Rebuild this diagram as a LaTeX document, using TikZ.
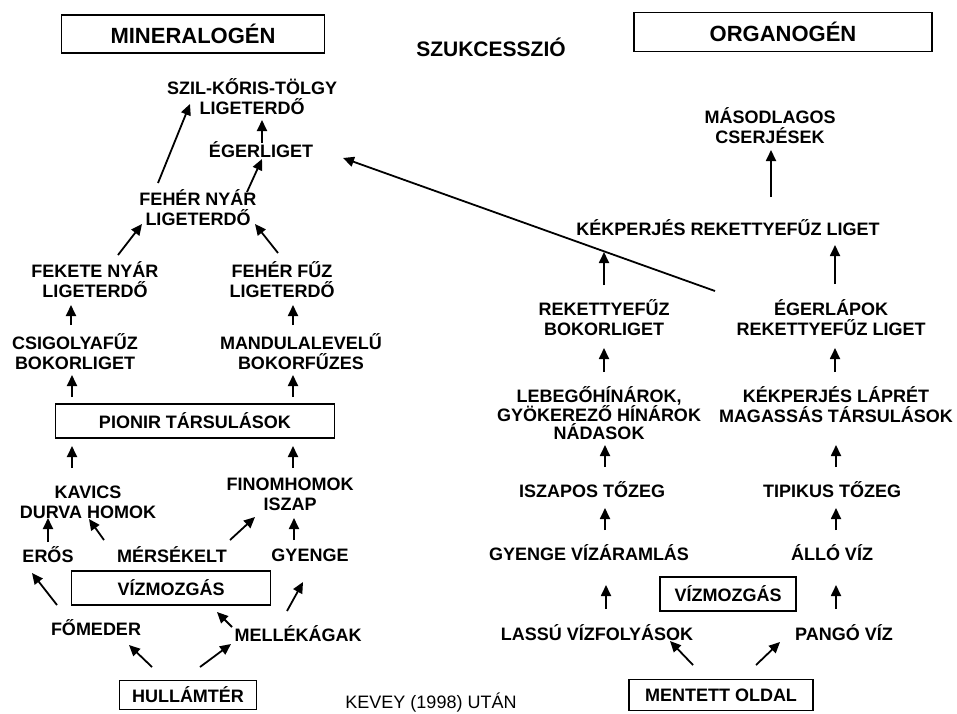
\documentclass[tikz,border=0pt]{standalone}
\usepackage{fontspec}
\setmainfont{Liberation Sans}
\usetikzlibrary{arrows.meta}
\begin{document}
\begin{tikzpicture}[x=1pt,y=-1pt,
	lbl/.style={font=\bfseries\fontsize{18}{20}\selectfont, align=center, inner sep=0pt},
	box/.style={lbl, draw, line width=1.5pt},
	arr/.style={line width=1.8pt, -{Triangle[length=11pt,width=10pt]}}]
	\useasboundingbox[fill=white] (0,0) rectangle (957,713);
	% Kopfzeile
	\node[box, minimum width=263, minimum height=38, font=\bfseries\fontsize{22}{24}\selectfont] (mineral) at (193,34) {MINERALOGÉN};
	\node[box, minimum width=298, minimum height=39, font=\bfseries\fontsize{22}{24}\selectfont] (organ) at (783,32) {ORGANOGÉN};
	\node[lbl, font=\bfseries\fontsize{21}{24}\selectfont] (szukc) at (491,47) {SZUKCESSZIÓ};
	% mineralogen Seite
	\node[lbl] (szil) at (252,97) {SZIL-KŐRIS-TÖLGY\\LIGETERDŐ};
	\node[lbl] (eger) at (261,150) {ÉGERLIGET};
	\node[lbl] (fnyar) at (198,208) {FEHÉR NYÁR\\LIGETERDŐ};
	\node[lbl] (fekete) at (95,280) {FEKETE NYÁR\\LIGETERDŐ};
	\node[lbl] (ffuz) at (282,280) {FEHÉR FŰZ\\LIGETERDŐ};
	\node[lbl] (csig) at (75,352) {CSIGOLYAFŰZ\\BOKORLIGET};
	\node[lbl] (mandula) at (301,352) {MANDULALEVELŰ\\BOKORFŰZES};
	\node[box, minimum width=279, minimum height=34] (pionir) at (195,421) {PIONIR TÁRSULÁSOK};
	\node[lbl] (kavics) at (88,502) {KAVICS\\DURVA HOMOK};
	\node[lbl] (finom) at (290,494) {FINOMHOMOK\\ISZAP};
	\node[lbl] (eros) at (48,555) {ERŐS};
	\node[lbl] (mers) at (172,555) {MÉRSÉKELT};
	\node[lbl] (gyenge) at (310,555) {GYENGE};
	\node[box, minimum width=199, minimum height=34] (vizl) at (171,588) {VÍZMOZGÁS};
	\node[lbl] (fomeder) at (96,628) {FŐMEDER};
	\node[lbl] (mellek) at (298,634) {MELLÉKÁGAK};
	\node[box, minimum width=137, minimum height=29] (hullam) at (188,695) {HULLÁMTÉR};
	\node[lbl, font=\fontsize{18}{20}\selectfont] (kevey) at (431,703) {KEVEY (1998) UTÁN};
	% organogen Seite
	\node[lbl] (masod) at (770,126) {MÁSODLAGOS\\CSERJÉSEK};
	\node[lbl] (kekrek) at (728,228) {KÉKPERJÉS REKETTYEFŰZ LIGET};
	\node[lbl] (rekbok) at (604,318) {REKETTYEFŰZ\\BOKORLIGET};
	\node[lbl] (egerlap) at (831,318) {ÉGERLÁPOK\\REKETTYEFŰZ LIGET};
	\node[lbl, font=\bfseries\fontsize{18}{18}\selectfont] (lebego) at (599,413) {LEBEGŐHÍNÁROK,\\GYÖKEREZŐ HÍNÁROK\\NÁDASOK};
	\node[lbl] (kekpl) at (836,405) {KÉKPERJÉS LÁPRÉT\\MAGASSÁS TÁRSULÁSOK};
	\node[lbl] (iszapos) at (592,490) {ISZAPOS TŐZEG};
	\node[lbl] (tipikus) at (832,490) {TIPIKUS TŐZEG};
	\node[lbl] (gyvizar) at (589,553) {GYENGE VÍZÁRAMLÁS};
	\node[lbl] (allo) at (832,553) {ÁLLÓ VÍZ};
	\node[box, minimum width=136, minimum height=34] (vizr) at (728,594) {VÍZMOZGÁS};
	\node[lbl] (lassu) at (597,633) {LASSÚ VÍZFOLYÁSOK};
	\node[lbl] (pango) at (844,633) {PANGÓ VÍZ};
	\node[box, minimum width=184, minimum height=31] (mentett) at (721,695) {MENTETT OLDAL};
	\coordinate (lstart) at (715,291);
	% Pfeile links
	\draw[arr] ([shift={(1,-7)}]eger.center) -- ([shift={(10,23)}]szil.center);
	\draw[arr] ([shift={(-40,-25)}]fnyar.center) -- ([shift={(-62,7)}]szil.center);
	\draw[arr] ([shift={(49,-16)}]fnyar.center) -- ([shift={(1,9)}]eger.center);
	\draw[arr] ([shift={(23,-25)}]fekete.center) -- ([shift={(-56,16)}]fnyar.center);
	\draw[arr] ([shift={(-4,-27)}]ffuz.center) -- ([shift={(57,16)}]fnyar.center);
	\draw[arr] ([shift={(-4,-27)}]csig.center) -- ([shift={(-24,25)}]fekete.center);
	\draw[arr] ([shift={(-8,-27)}]mandula.center) -- ([shift={(11,25)}]ffuz.center);
	\draw[arr] ([shift={(-123,-24)}]pionir.center) -- ([shift={(-3,23)}]csig.center);
	\draw[arr] ([shift={(98,-24)}]pionir.center) -- ([shift={(-8,23)}]mandula.center);
	\draw[arr] ([shift={(-16,-34)}]kavics.center) -- ([shift={(-123,25)}]pionir.center);
	\draw[arr] ([shift={(3,-26)}]finom.center) -- ([shift={(98,25)}]pionir.center);
	\draw[arr] ([shift={(0,-13)}]eros.center) -- ([shift={(-40,16)}]kavics.center);
	\draw[arr] ([shift={(-68,-15)}]mers.center) -- ([shift={(1,17)}]kavics.center);
	\draw[arr] ([shift={(58,-15)}]mers.center) -- ([shift={(-35,23)}]finom.center);
	\draw[arr] ([shift={(-16,-15)}]gyenge.center) -- ([shift={(4,24)}]finom.center);
	\draw[arr] ([shift={(-39,-23)}]fomeder.center) -- ([shift={(-16,18)}]eros.center);
	\draw[arr] ([shift={(-66,-7)}]mellek.center) -- ([shift={(46,24)}]vizl.center);
	\draw[arr] ([shift={(-11,-23)}]mellek.center) -- ([shift={(-7,27)}]gyenge.center);
	\draw[arr] ([shift={(-36,-28)}]hullam.center) -- ([shift={(33,17)}]fomeder.center);
	\draw[arr] ([shift={(12,-28)}]hullam.center) -- ([shift={(-67,10)}]mellek.center);
	% Pfeile rechts
	\draw[arr] ([shift={(43,-31)}]kekrek.center) -- ([shift={(1,24)}]masod.center);
	\draw[arr] ([shift={(0,-33)}]rekbok.center) -- ([shift={(-124,24)}]kekrek.center);
	\draw[arr] ([shift={(4,-34)}]egerlap.center) -- ([shift={(107,17)}]kekrek.center);
	\draw[arr] ([shift={(5,-41)}]lebego.center) -- ([shift={(0,30)}]rekbok.center);
	\draw[arr] ([shift={(-1,-33)}]kekpl.center) -- ([shift={(4,30)}]egerlap.center);
	\draw[arr] ([shift={(13,-23)}]iszapos.center) -- ([shift={(6,32)}]lebego.center);
	\draw[arr] ([shift={(4,-23)}]tipikus.center) -- ([shift={(0,40)}]kekpl.center);
	\draw[arr] ([shift={(16,-23)}]gyvizar.center) -- ([shift={(13,18)}]iszapos.center);
	\draw[arr] ([shift={(4,-23)}]allo.center) -- ([shift={(4,18)}]tipikus.center);
	\draw[arr] ([shift={(9,-24)}]lassu.center) -- ([shift={(17,32)}]gyvizar.center);
	\draw[arr] ([shift={(-8,-24)}]pango.center) -- ([shift={(4,32)}]allo.center);
	\draw[arr] ([shift={(-28,-30)}]mentett.center) -- ([shift={(73,8)}]lassu.center);
	\draw[arr] ([shift={(35,-30)}]mentett.center) -- ([shift={(-64,9)}]pango.center);
	% langer Pfeil
	\draw[arr] (lstart) -- ([shift={(82,8)}]eger.center);
\end{tikzpicture}
\end{document}
